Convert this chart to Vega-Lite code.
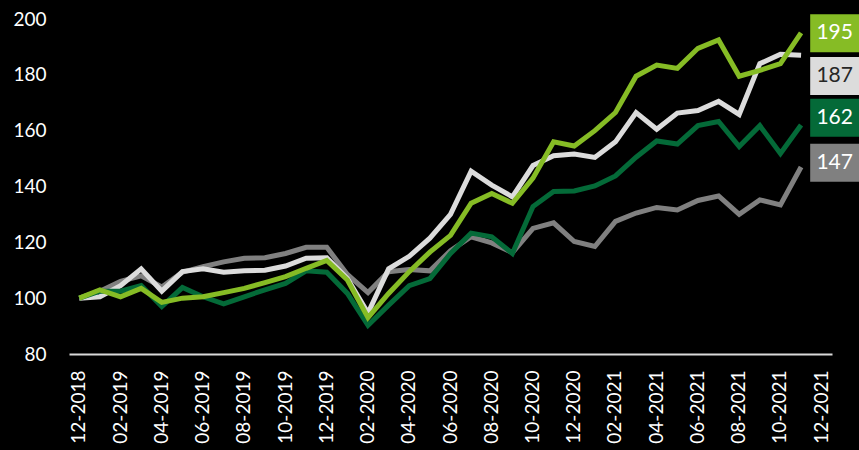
{
  "$schema": "https://vega.github.io/schema/vega-lite/v6.json",
  "width": 763,
  "height": 335,
  "autosize": {"type": "none"},
  "padding": {"left": 69, "top": 19, "right": 27, "bottom": 96},
  "background": "#000000",
  "config": {
    "view": {"stroke": null},
    "font": "Lato",
    "axis": {"labelFont": "Lato", "labelColor": "#FFFFFF", "grid": false, "ticks": false, "tickSize": 0}
  },
  "datasets": {
    "lines": [
      {"m":"12-2018","s":"gr","v":100},{"m":"01-2019","s":"gr","v":102.5},{"m":"02-2019","s":"gr","v":106},{"m":"03-2019","s":"gr","v":108},{"m":"04-2019","s":"gr","v":104},{"m":"05-2019","s":"gr","v":109.3},{"m":"06-2019","s":"gr","v":111.3},{"m":"07-2019","s":"gr","v":113},{"m":"08-2019","s":"gr","v":114.3},{"m":"09-2019","s":"gr","v":114.5},{"m":"10-2019","s":"gr","v":116},{"m":"11-2019","s":"gr","v":118.2},{"m":"12-2019","s":"gr","v":118.2},{"m":"01-2020","s":"gr","v":108.5},{"m":"02-2020","s":"gr","v":102},{"m":"03-2020","s":"gr","v":109.5},{"m":"04-2020","s":"gr","v":110.3},{"m":"05-2020","s":"gr","v":109.8},{"m":"06-2020","s":"gr","v":117},{"m":"07-2020","s":"gr","v":122},{"m":"08-2020","s":"gr","v":119.8},{"m":"09-2020","s":"gr","v":116.3},{"m":"10-2020","s":"gr","v":125},{"m":"11-2020","s":"gr","v":127},{"m":"12-2020","s":"gr","v":120.3},{"m":"01-2021","s":"gr","v":118.5},{"m":"02-2021","s":"gr","v":127.5},{"m":"03-2021","s":"gr","v":130.5},{"m":"04-2021","s":"gr","v":132.5},{"m":"05-2021","s":"gr","v":131.6},{"m":"06-2021","s":"gr","v":135},{"m":"07-2021","s":"gr","v":136.6},{"m":"08-2021","s":"gr","v":130},{"m":"09-2021","s":"gr","v":135.2},{"m":"10-2021","s":"gr","v":133.4},{"m":"11-2021","s":"gr","v":147},
      {"m":"12-2018","s":"wh","v":100},{"m":"01-2019","s":"wh","v":100.5},{"m":"02-2019","s":"wh","v":104.5},{"m":"03-2019","s":"wh","v":110.5},{"m":"04-2019","s":"wh","v":102.5},{"m":"05-2019","s":"wh","v":109.5},{"m":"06-2019","s":"wh","v":110.5},{"m":"07-2019","s":"wh","v":109.3},{"m":"08-2019","s":"wh","v":109.8},{"m":"09-2019","s":"wh","v":110},{"m":"10-2019","s":"wh","v":111.5},{"m":"11-2019","s":"wh","v":114.3},{"m":"12-2019","s":"wh","v":114.5},{"m":"01-2020","s":"wh","v":107},{"m":"02-2020","s":"wh","v":94.7},{"m":"03-2020","s":"wh","v":110.5},{"m":"04-2020","s":"wh","v":115},{"m":"05-2020","s":"wh","v":121.5},{"m":"06-2020","s":"wh","v":130},{"m":"07-2020","s":"wh","v":145.5},{"m":"08-2020","s":"wh","v":140.5},{"m":"09-2020","s":"wh","v":136.3},{"m":"10-2020","s":"wh","v":147.5},{"m":"11-2020","s":"wh","v":151},{"m":"12-2020","s":"wh","v":151.6},{"m":"01-2021","s":"wh","v":150.4},{"m":"02-2021","s":"wh","v":156},{"m":"03-2021","s":"wh","v":166.5},{"m":"04-2021","s":"wh","v":160.5},{"m":"05-2021","s":"wh","v":166.3},{"m":"06-2021","s":"wh","v":167.2},{"m":"07-2021","s":"wh","v":170.5},{"m":"08-2021","s":"wh","v":165.8},{"m":"09-2021","s":"wh","v":184},{"m":"10-2021","s":"wh","v":187.4},{"m":"11-2021","s":"wh","v":187},
      {"m":"12-2018","s":"dg","v":100},{"m":"01-2019","s":"dg","v":102.5},{"m":"02-2019","s":"dg","v":102.5},{"m":"03-2019","s":"dg","v":104.5},{"m":"04-2019","s":"dg","v":97},{"m":"05-2019","s":"dg","v":103.8},{"m":"06-2019","s":"dg","v":100.5},{"m":"07-2019","s":"dg","v":98},{"m":"08-2019","s":"dg","v":100.5},{"m":"09-2019","s":"dg","v":103},{"m":"10-2019","s":"dg","v":105.3},{"m":"11-2019","s":"dg","v":109.8},{"m":"12-2019","s":"dg","v":109.3},{"m":"01-2020","s":"dg","v":101.7},{"m":"02-2020","s":"dg","v":90.3},{"m":"03-2020","s":"dg","v":97.5},{"m":"04-2020","s":"dg","v":104.5},{"m":"05-2020","s":"dg","v":107},{"m":"06-2020","s":"dg","v":116},{"m":"07-2020","s":"dg","v":123.3},{"m":"08-2020","s":"dg","v":122},{"m":"09-2020","s":"dg","v":116},{"m":"10-2020","s":"dg","v":132.8},{"m":"11-2020","s":"dg","v":138.2},{"m":"12-2020","s":"dg","v":138.4},{"m":"01-2021","s":"dg","v":140.2},{"m":"02-2021","s":"dg","v":143.8},{"m":"03-2021","s":"dg","v":150.5},{"m":"04-2021","s":"dg","v":156.3},{"m":"05-2021","s":"dg","v":155.2},{"m":"06-2021","s":"dg","v":161.8},{"m":"07-2021","s":"dg","v":163.3},{"m":"08-2021","s":"dg","v":154.3},{"m":"09-2021","s":"dg","v":161.8},{"m":"10-2021","s":"dg","v":151.8},{"m":"11-2021","s":"dg","v":162},
      {"m":"12-2018","s":"lg","v":100},{"m":"01-2019","s":"lg","v":103},{"m":"02-2019","s":"lg","v":100.5},{"m":"03-2019","s":"lg","v":103.5},{"m":"04-2019","s":"lg","v":98.5},{"m":"05-2019","s":"lg","v":100},{"m":"06-2019","s":"lg","v":100.5},{"m":"07-2019","s":"lg","v":102},{"m":"08-2019","s":"lg","v":103.5},{"m":"09-2019","s":"lg","v":105.6},{"m":"10-2019","s":"lg","v":107.7},{"m":"11-2019","s":"lg","v":110.7},{"m":"12-2019","s":"lg","v":113.5},{"m":"01-2020","s":"lg","v":106.5},{"m":"02-2020","s":"lg","v":93},{"m":"03-2020","s":"lg","v":101.7},{"m":"04-2020","s":"lg","v":109.5},{"m":"05-2020","s":"lg","v":116.5},{"m":"06-2020","s":"lg","v":122.5},{"m":"07-2020","s":"lg","v":134},{"m":"08-2020","s":"lg","v":137.5},{"m":"09-2020","s":"lg","v":134},{"m":"10-2020","s":"lg","v":143},{"m":"11-2020","s":"lg","v":156},{"m":"12-2020","s":"lg","v":154.5},{"m":"01-2021","s":"lg","v":160},{"m":"02-2021","s":"lg","v":166.5},{"m":"03-2021","s":"lg","v":179.5},{"m":"04-2021","s":"lg","v":183.5},{"m":"05-2021","s":"lg","v":182.3},{"m":"06-2021","s":"lg","v":189.5},{"m":"07-2021","s":"lg","v":192.5},{"m":"08-2021","s":"lg","v":179.5},{"m":"09-2021","s":"lg","v":181.6},{"m":"10-2021","s":"lg","v":184},{"m":"11-2021","s":"lg","v":195}
    ],
    "labels": [
      {"s":"lg","v":195,"ly":194.9},
      {"s":"wh","v":187,"ly":179.6},
      {"s":"dg","v":162,"ly":164.6},
      {"s":"gr","v":147,"ly":148.5}
    ]
  },
  "layer": [
    {
      "data": {"name": "lines"},
      "mark": {"type": "line", "strokeWidth": 5, "strokeJoin": "miter"},
      "encoding": {
        "x": {
          "field": "m", "type": "ordinal", "sort": null,
          "scale": {"type": "band", "paddingInner": 0, "paddingOuter": 0,
            "domain": ["12-2018","01-2019","02-2019","03-2019","04-2019","05-2019","06-2019","07-2019","08-2019","09-2019","10-2019","11-2019","12-2019","01-2020","02-2020","03-2020","04-2020","05-2020","06-2020","07-2020","08-2020","09-2020","10-2020","11-2020","12-2020","01-2021","02-2021","03-2021","04-2021","05-2021","06-2021","07-2021","08-2021","09-2021","10-2021","11-2021","12-2021"]},
          "axis": {
            "title": null,
            "values": ["12-2018","02-2019","04-2019","06-2019","08-2019","10-2019","12-2019","02-2020","04-2020","06-2020","08-2020","10-2020","12-2020","02-2021","04-2021","06-2021","08-2021","10-2021","12-2021"],
            "labelAngle": -90, "labelFontSize": 19, "labelPadding": 16,
            "domainColor": "#D9D9D9", "domainWidth": 2
          }
        },
        "y": {
          "field": "v", "type": "quantitative",
          "scale": {"domain": [80, 200], "nice": false, "zero": false},
          "axis": {"title": null, "values": [80,100,120,140,160,180,200], "domain": false, "labelFontSize": 19, "labelPadding": 23}
        },
        "color": {
          "field": "s", "type": "nominal",
          "scale": {"domain": ["gr","wh","dg","lg"], "range": ["#808080","#DCDCDC","#046A38","#86BC25"]},
          "legend": null
        }
      }
    },
    {
      "data": {"name": "labels"},
      "mark": {"type": "bar", "width": 49, "xOffset": 13, "yOffset": -19, "y2Offset": 19},
      "encoding": {
        "x": {"datum": "12-2021", "type": "ordinal"},
        "y": {"field": "ly", "type": "quantitative"},
        "y2": {"field": "ly"},
        "color": {"field": "s", "type": "nominal", "legend": null}
      }
    },
    {
      "data": {"name": "labels"},
      "mark": {"type": "text", "xOffset": 13, "fontSize": 21, "align": "center", "baseline": "middle", "font": "Lato"},
      "encoding": {
        "x": {"datum": "12-2021", "type": "ordinal"},
        "y": {"field": "ly", "type": "quantitative"},
        "text": {"field": "v", "type": "quantitative"},
        "fill": {"condition": {"test": "datum.s === 'wh'", "value": "#262626"}, "value": "#FFFFFF"}
      }
    }
  ]
}
